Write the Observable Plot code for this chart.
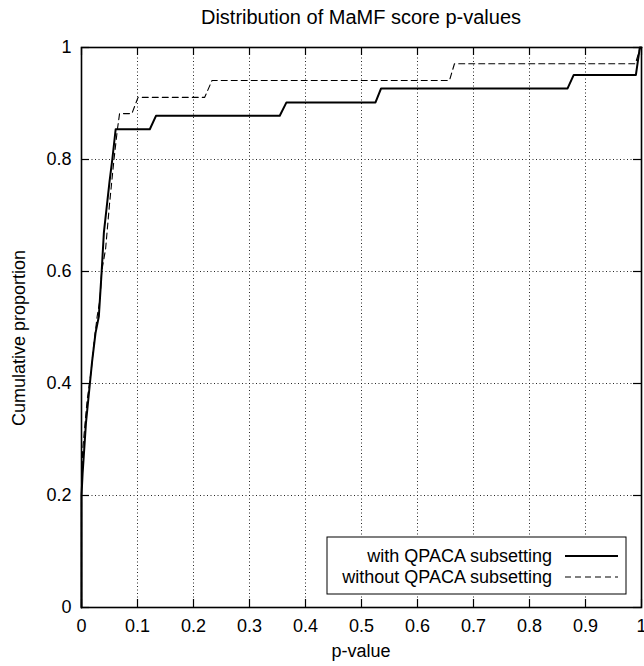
<!DOCTYPE html>
<html>
<head>
<meta charset="utf-8">
<script src="https://cdn.jsdelivr.net/npm/d3@7"></script>
<script src="https://cdn.jsdelivr.net/npm/@observablehq/plot@0.6"></script>
<style>
  html, body { margin: 0; padding: 0; background: #fff; }
  #chart { position: relative; width: 644px; height: 666px; }
  svg { font-family: "Liberation Sans", Arial, Helvetica, sans-serif; }
</style>
</head>
<body>
<div id="chart"></div>
<script>
const title = "Distribution of MaMF score p-values";
const xLabel = "p-value";
const yLabel = "Cumulative proportion";
const seriesNames = ["with QPACA subsetting", "without QPACA subsetting"];

const xTicks = [0, 0.1, 0.2, 0.3, 0.4, 0.5, 0.6, 0.7, 0.8, 0.9, 1];
const xTickLabels = ["0", "0.1", "0.2", "0.3", "0.4", "0.5", "0.6", "0.7", "0.8", "0.9", "1"];
const yTicks = [0, 0.2, 0.4, 0.6, 0.8, 1];
const yTickLabels = ["0", "0.2", "0.4", "0.6", "0.8", "1"];

// with QPACA subsetting (solid)
const withX = [0, 0, 0.002, 0.008, 0.015, 0.019, 0.025, 0.031, 0.036, 0.040, 0.050, 0.055, 0.061, 0.122, 0.133, 0.354, 0.366, 0.525, 0.535, 0.868, 0.879, 0.990, 0.997, 1];
const withY = [0, 0.20, 0.24, 0.33, 0.40, 0.44, 0.49, 0.52, 0.60, 0.67, 0.76, 0.80, 0.854, 0.854, 0.878, 0.878, 0.902, 0.902, 0.927, 0.927, 0.951, 0.951, 1, 1];

// without QPACA subsetting (dashed)
const withoutX = [0, 0, 0.002, 0.010, 0.017, 0.022, 0.028, 0.033, 0.036, 0.043, 0.050, 0.058, 0.064, 0.068, 0.090, 0.101, 0.220, 0.233, 0.657, 0.666, 0.989, 0.998, 1];
const withoutY = [0, 0.21, 0.28, 0.37, 0.42, 0.47, 0.52, 0.55, 0.60, 0.64, 0.72, 0.80, 0.853, 0.882, 0.882, 0.911, 0.911, 0.941, 0.941, 0.971, 0.971, 1, 1];

const withData = withX.map((x, i) => ({x, y: withY[i]}));
const withoutData = withoutX.map((x, i) => ({x, y: withoutY[i]}));
const innerX = xTicks.filter(t => t > 0 && t < 1);
const innerY = yTicks.filter(t => t > 0 && t < 1);

const W = 644, H = 666, mL = 81, mR = 3, mT = 47, mB = 59;
const tickLenX = 8 / (W - mL - mR);
const tickLenY = 8 / (H - mT - mB);
const fmtX = d => xTickLabels[xTicks.indexOf(d)];
const fmtY = d => yTickLabels[yTicks.indexOf(d)];

const plot = Plot.plot({
  width: W, height: H,
  marginLeft: mL, marginRight: mR, marginTop: mT, marginBottom: mB,
  style: {fontFamily: '"Liberation Sans", Arial, Helvetica, sans-serif', fontSize: "18px", background: "#fff", overflow: "visible"},
  x: {domain: [0, 1]},
  y: {domain: [0, 1]},
  marks: [
    Plot.ruleX(innerX, {x: d => d, stroke: "#000", strokeWidth: 1, strokeDasharray: "1,2.5", strokeOpacity: 0.85}),
    Plot.ruleY(innerY, {y: d => d, stroke: "#000", strokeWidth: 1, strokeDasharray: "1,2.5", strokeOpacity: 0.85}),
    Plot.ruleX(xTicks, {x: d => d, y1: 0, y2: tickLenY, stroke: "#000", strokeWidth: 1.2}),
    Plot.ruleX(xTicks, {x: d => d, y1: 1, y2: 1 - tickLenY, stroke: "#000", strokeWidth: 1.2}),
    Plot.ruleY(yTicks, {y: d => d, x1: 0, x2: tickLenX, stroke: "#000", strokeWidth: 1.2}),
    Plot.ruleY(yTicks, {y: d => d, x1: 1, x2: 1 - tickLenX, stroke: "#000", strokeWidth: 1.2}),
    Plot.axisX(xTicks, {tickSize: 0, tickPadding: 12, tickFormat: fmtX, label: null, fontSize: 18, fill: "#000"}),
    Plot.axisY(yTicks, {tickSize: 0, tickPadding: 10, tickFormat: fmtY, label: null, fontSize: 18, fill: "#000"}),
    Plot.line(withoutData, {x: "x", y: "y", stroke: "#000", strokeWidth: 1.1, strokeDasharray: "6,4"}),
    Plot.line(withData, {x: "x", y: "y", stroke: "#000", strokeWidth: 2}),
    Plot.frame({stroke: "#000", strokeWidth: 1.6})
  ]
});

document.getElementById("chart").appendChild(plot);
const svg = d3.select(plot);
const cx = mL + (W - mL - mR) / 2;
const cy = 338;

svg.append("text").attr("x", cx).attr("y", 24).attr("text-anchor", "middle")
  .attr("font-size", 20).attr("fill", "#000").text(title);
svg.append("text").attr("x", cx).attr("y", 657).attr("text-anchor", "middle")
  .attr("font-size", 18).attr("fill", "#000").text(xLabel);
svg.append("text").attr("transform", `translate(25,${cy}) rotate(-90)`).attr("text-anchor", "middle")
  .attr("font-size", 18).attr("fill", "#000").text(yLabel);

// legend
const lg = svg.append("g");
lg.append("rect").attr("x", 327).attr("y", 537).attr("width", 299).attr("height", 57)
  .attr("fill", "#fff").attr("stroke", "#000").attr("stroke-width", 1);
const rows = [
  {name: seriesNames[0], dash: null, w: 2, y: 556},
  {name: seriesNames[1], dash: "6,4", w: 1.1, y: 577}
];
rows.forEach(r => {
  lg.append("text").attr("x", 552).attr("y", r.y + 6).attr("text-anchor", "end")
    .attr("font-size", 18).attr("fill", "#000").text(r.name);
  const ln = lg.append("line").attr("x1", 565).attr("x2", 618).attr("y1", r.y).attr("y2", r.y)
    .attr("stroke", "#000").attr("stroke-width", r.w);
  if (r.dash) ln.attr("stroke-dasharray", r.dash);
});
</script>
</body>
</html>
